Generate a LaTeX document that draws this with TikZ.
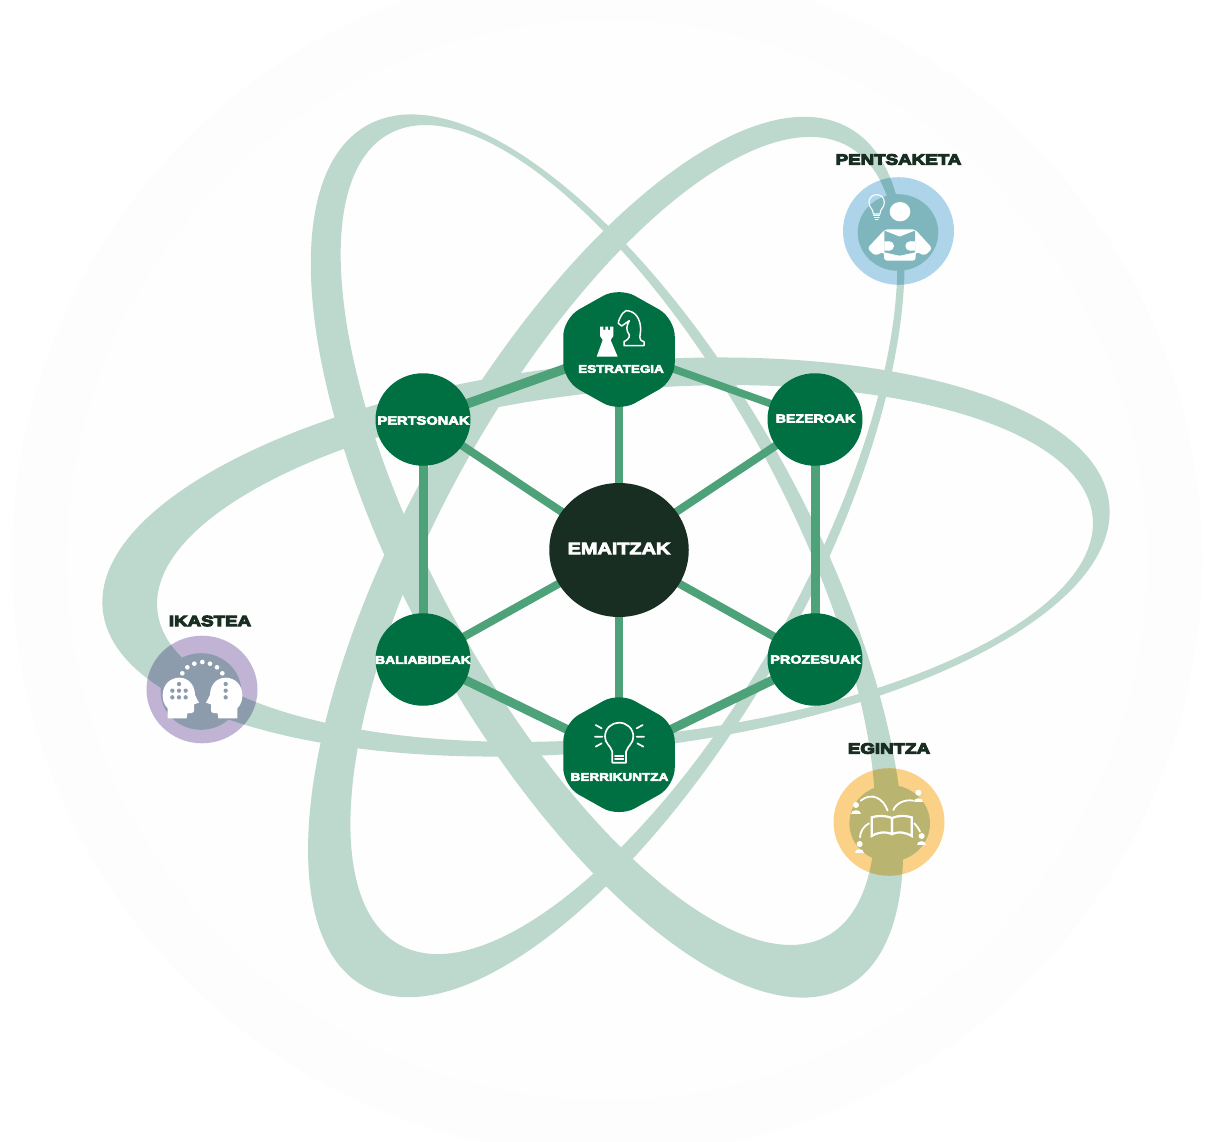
\documentclass[tikz,border=0pt]{standalone}
\usepackage{fontspec}
\usetikzlibrary{shapes.geometric}
\setmainfont{Liberation Sans}
\newfontfamily\wide[FakeStretch=1.22,FakeBold=5]{Liberation Sans Bold}
\newfontfamily\heavy[FakeStretch=1.25,FakeBold=7]{Liberation Sans Bold}
\definecolor{band}{HTML}{BDD8CC}
\definecolor{spoke}{HTML}{4DA279}
\definecolor{nodegreen}{HTML}{006F41}
\definecolor{darkcore}{HTML}{182E22}
\definecolor{faint}{HTML}{FDFDFD}
\definecolor{fainter}{HTML}{FEFEFE}
\definecolor{blueO}{HTML}{AED4E9}
\definecolor{blueI}{HTML}{7FB5BC}
\definecolor{purO}{HTML}{C1B3D4}
\definecolor{purI}{HTML}{8D9CAC}
\definecolor{yelO}{HTML}{FBD187}
\definecolor{yelI}{HTML}{B9B46F}
\pgfdeclarelayer{orb}
\pgfdeclarelayer{lines}
\pgfsetlayers{orb,lines,main}
\newcommand{\orbitA}{(606,557) circle[x radius=506pt,y radius=193.4pt,rotate=6] (625,563.5) circle[x radius=470pt,y radius=173pt,rotate=5.7]}
\newcommand{\orbitB}{(607,556) circle[x radius=493pt,y radius=199pt,rotate=-60.9] (608,535) circle[x radius=457pt,y radius=175pt,rotate=-61.4]}
\newcommand{\orbitC}{(606.3,557) circle[x radius=493pt,y radius=199pt,rotate=60.5] (623.8,545.5) circle[x radius=458pt,y radius=178.5pt,rotate=60.6]}
\tikzset{
  roundnode/.style={ellipse,fill=nodegreen,minimum width=95pt,minimum height=92.5pt,inner sep=0pt},
  hexnode/.style={regular polygon,regular polygon sides=6,shape border rotate=30,fill=nodegreen,minimum size=125pt,xscale=1.03,inner sep=0pt,rounded corners=18pt},
  corenode/.style={ellipse,fill=darkcore,minimum width=139.5pt,minimum height=134pt,inner sep=0pt},
  spokeline/.style={draw=spoke,line width=8pt},
  rimline/.style={draw=spoke,line width=9pt},
  nlabel/.style={text=white,font=\wide\fontsize{12}{12}\selectfont,inner sep=0pt},
  blabel/.style={text=darkcore,font=\heavy\fontsize{15}{15}\selectfont,inner sep=0pt},
  outerbadge/.style={ellipse,minimum width=111pt,minimum height=107.6pt,inner sep=0pt},
  innerbadge/.style={ellipse,minimum width=80.6pt,minimum height=76.6pt,inner sep=0pt},
  iconline/.style={draw=white,fill=none,line width=1.7pt,line cap=round,line join=round},
  zoomframe/.style={x=.33333pt,y=-.33333pt},
}
\begin{document}
\begin{tikzpicture}[x=1pt,y=-1pt]
\useasboundingbox (0,0) rectangle (1205,1142);
\begin{pgfonlayer}{orb}
\fill[white] (0,0) rectangle (1205,1142);
\begin{scope}
\clip (0,0) rectangle (1205,1142);
\fill[faint] (607,560) circle[radius=595pt];
\fill[fainter] (607,560) circle[radius=540pt];
\end{scope}
\fill[band,even odd rule] \orbitA;
\fill[band,even odd rule] \orbitB;
\fill[band,even odd rule] \orbitC;
\end{pgfonlayer}
% central nodes
\node[corenode] (core) at (619,550) {};
\node[roundnode] (pers) at (423,419.5) {};
\node[roundnode] (beze) at (815,419.5) {};
\node[roundnode] (bali) at (423,659.5) {};
\node[roundnode] (proz) at (815,659.5) {};
\node[hexnode] (estr) at (619,349.5) {};
\node[hexnode] (berr) at (619,754.7) {};
\begin{pgfonlayer}{lines}
\draw[spokeline] (core.center) -- (pers.center);
\draw[spokeline] (core.center) -- (beze.center);
\draw[spokeline] (core.center) -- (bali.center);
\draw[spokeline] (core.center) -- (proz.center);
\draw[spokeline] (core.center) -- (estr.center);
\draw[spokeline] (core.center) -- (berr.center);
\draw[rimline,line width=9.5pt] (pers.center) -- (estr.center);
\draw[rimline,line width=7.5pt] (estr.center) -- (beze.center);
\draw[rimline] (beze.center) -- (proz.center);
\draw[rimline] (proz.center) -- (berr.center);
\draw[rimline] (berr.center) -- (bali.center);
\draw[rimline] (bali.center) -- (pers.center);
\end{pgfonlayer}
\node[nlabel] (tcore) at (619,548.5) {\fontsize{16.3}{16.3}\selectfont EMAITZAK};
\node[nlabel] (tpers) at (423.5,420.5) {PERTSONAK};
\node[nlabel] (tbeze) at (815.5,418.5) {\fontsize{11.6}{11.6}\selectfont BEZEROAK};
\node[nlabel] (tbali) at (423,660) {\fontsize{11.4}{11.4}\selectfont BALIABIDEAK};
\node[nlabel] (tproz) at (815.5,659.5) {\fontsize{11.8}{11.8}\selectfont PROZESUAK};
\node[nlabel] (testr) at (621,369) {\fontsize{11}{11}\selectfont ESTRATEGIA};
\node[nlabel] (tberr) at (619.5,777) {\fontsize{11.1}{11.1}\selectfont BERRIKUNTZA};
% ---- hexagon icons
\begin{scope}[shift={(550pt,-280pt)},zoomframe]
\fill[white] (140,230) -- (158,180) -- (150,168) -- (150,140) -- (160,140) -- (160,150) -- (166,150) -- (166,140) -- (174,140) -- (174,150) -- (180,150) -- (180,140) -- (190,140) -- (190,168) -- (182,180) -- (203,230) -- cycle;
\draw[iconline,line width=1.5pt] (222,197) -- (282,197) -- (282,185) .. controls (262,180) and (272,165) .. (272,150) .. controls (272,115) and (255,92) .. (228,92) -- (218,100) .. controls (212,110) and (205,120) .. (205,130) -- (215,138) -- (238,122) .. controls (228,140) and (228,150) .. (238,165) .. controls (240,175) and (228,182) .. (222,185) -- cycle;
\end{scope}
\begin{scope}[shift={(550pt,-685pt)},zoomframe]
\draw[iconline] (187,200) .. controls (180,180) and (165,175) .. (165,155) .. controls (165,130) and (185,113) .. (207,113) .. controls (230,113) and (250,130) .. (250,155) .. controls (250,175) and (235,180) .. (228,200) -- (228,233) -- (187,233) -- cycle;
\draw[iconline] (195,212) -- (220,212) (195,222) -- (220,222);
\draw[iconline] (137,120) -- (155,130) (135,155) -- (157,155) (137,185) -- (155,175) (278,120) -- (260,130) (282,155) -- (260,155) (280,185) -- (262,175);
\end{scope}
% ---- PENTSAKETA badge
\node[outerbadge,fill=blueO] (pent) at (898.5,231) {};
\begin{scope}
\clip (898.5,231) circle[x radius=55.5pt,y radius=53.8pt];
\fill[blueI,even odd rule] \orbitC;
\end{scope}
\node[innerbadge,fill=blueI] (penti) at (898,232.5) {};
\node[blabel] (tpent) at (898.5,159.5) {PENTSAKETA};
\begin{scope}[shift={(820pt,-140pt)},zoomframe]
\fill[white] (240,215) circle[x radius=31,y radius=29];
\fill[white,rounded corners=3pt] (195,268) -- (285,268) -- (337,325) -- (315,347) -- (287,335) -- (287,362) -- (192,362) -- (192,335) -- (165,347) -- (142,325) -- cycle;
\fill[blueI] (193,272) -- (239,290) -- (285,272) -- (285,337) -- (239,347) -- (193,337) -- cycle;
\fill[white] (208,318) circle[radius=14] (270,318) circle[radius=14];
\fill[white] (193,304) rectangle (208,332) (270,304) rectangle (285,332);
\draw[iconline,line width=1.1pt] (160,222) .. controls (160,205) and (147,205) .. (147,187) .. controls (147,172) and (158,164) .. (170,164) .. controls (182,164) and (193,172) .. (193,187) .. controls (193,205) and (180,205) .. (180,222) -- cycle;
\draw[iconline,line width=1pt] (161,228) -- (179,228) (163,233) -- (177,233) (166,238) -- (174,238);
\end{scope}
% ---- IKASTEA badge
\node[outerbadge,fill=purO] (ikas) at (202,689.5) {};
\begin{scope}
\clip (202,689.5) circle[x radius=55.5pt,y radius=53.8pt];
\fill[purI,even odd rule] \orbitA;
\end{scope}
\node[innerbadge,fill=purI] (ikasi) at (201,691.5) {};
\node[blabel] (tikas) at (210,621) {IKASTEA};
\begin{scope}[shift={(130pt,-600pt)},zoomframe]
\fill[white] (113,355) -- (113,325) .. controls (100,312) and (98,298) .. (98,285) .. controls (98,255) and (120,233) .. (148,233) .. controls (175,233) and (195,255) .. (195,285) -- (207,308) -- (192,313) -- (192,332) .. controls (192,340) and (180,340) .. (172,340) -- (170,355) -- cycle;
\fill[white] (322,355) -- (322,325) .. controls (335,312) and (337,298) .. (337,285) .. controls (337,255) and (315,233) .. (287,233) .. controls (260,233) and (240,255) .. (240,285) -- (228,308) -- (243,313) -- (243,332) .. controls (243,340) and (255,340) .. (263,340) -- (265,355) -- cycle;
\foreach \p in {(147,252),(127,272),(147,272),(167,272),(127,292),(147,292),(167,292),(287,252),(287,272),(287,292)} \fill[purI] \p circle[radius=6.5];
\foreach \p in {(157,220),(172,202),(193,191),(217,186),(240,191),(261,202),(277,220)} \fill[white] \p circle[radius=7];
\end{scope}
% ---- EGINTZA badge
\node[outerbadge,fill=yelO] (egin) at (889,822) {};
\begin{scope}
\clip (889,822) circle[x radius=55.5pt,y radius=53.8pt];
\fill[yelI,even odd rule] \orbitB;
\end{scope}
\node[innerbadge,fill=yelI] (egini) at (889.7,823.3) {};
\node[blabel] (tegin) at (889,748.5) {EGINTZA};
\begin{scope}[shift={(815pt,-730pt)},zoomframe]
\draw[iconline,line width=2.2pt,line join=miter] (170,262) .. controls (190,256) and (210,256) .. (231,264) -- (231,312) .. controls (210,304) and (190,306) .. (170,318) -- cycle;
\draw[iconline,line width=2.2pt,line join=miter] (290,262) .. controls (270,256) and (250,256) .. (231,264) -- (231,312) .. controls (250,304) and (270,306) .. (290,318) -- cycle;
\draw[iconline,line width=1.8pt] (137,212) .. controls (170,185) and (205,205) .. (218,242);
\draw[iconline,line width=1.8pt] (235,240) .. controls (243,220) and (270,207) .. (295,212);
\draw[iconline,line width=1.8pt] (135,322) .. controls (135,305) and (147,287) .. (162,280);
\draw[iconline,line width=1.8pt] (298,280) .. controls (305,287) and (312,297) .. (315,305);
\foreach \x/\y in {123/225,310/188,134/342,320/318}{
  \fill[white] (\x,\y) circle[radius=9];
  \fill[white] (\x-14,\y+27) .. controls (\x-14,\y+12) and (\x+14,\y+12) .. (\x+14,\y+27) -- cycle;
}
\end{scope}
\end{tikzpicture}
\end{document}
